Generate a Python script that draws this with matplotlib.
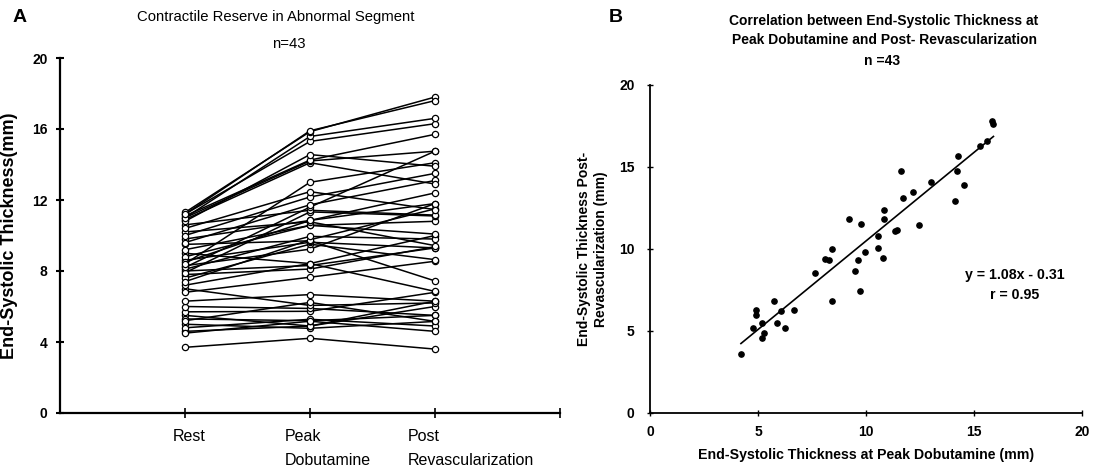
import matplotlib
matplotlib.use("Agg")
import matplotlib.pyplot as plt
import matplotlib.transforms as mtransforms
import numpy as np

plt.rcParams['font.family'] = ['Liberation Sans', 'DejaVu Sans']

# Data: end-systolic thickness (mm) for 43 segments
rest = [3.7, 5.0, 4.6, 5.5, 5.3, 4.8, 4.5, 5.7, 6.0, 7.0, 5.2, 6.3, 6.8, 7.8,
        8.0, 7.2, 9.0, 8.3, 7.6, 8.6, 9.5, 7.4, 8.1, 9.2, 8.8, 10.2, 8.5, 9.8,
        7.9, 10.6, 8.2, 9.6, 10.0, 10.4, 8.4, 10.9, 11.0, 11.1, 10.8, 11.2,
        11.0, 11.3, 11.2]
peak = [4.21, 4.77, 4.9, 4.9, 5.2, 5.28, 5.17, 5.73, 5.89, 6.06, 6.23, 6.67,
        7.65, 8.11, 8.31, 8.42, 8.42, 9.23, 9.51, 9.62, 9.7, 9.76, 9.95, 10.57,
        10.57, 10.77, 10.85, 10.85, 11.33, 11.42, 11.6, 11.73, 12.17, 12.47,
        13.0, 14.1, 14.2, 14.25, 14.56, 15.3, 15.58, 15.85, 15.9]
post = [3.6, 5.16, 6.3, 6.0, 5.5, 4.9, 4.6, 6.8, 5.5, 6.2, 5.16, 6.3, 8.55,
        9.37, 9.3, 10.0, 6.85, 11.8, 8.64, 9.3, 7.44, 11.5, 9.8, 10.8, 10.08,
        9.43, 12.4, 11.8, 11.1, 11.15, 14.75, 13.1, 13.5, 11.46, 14.1, 12.9,
        14.75, 15.7, 13.9, 16.3, 16.6, 17.8, 17.6]

stages = ['Rest', 'Peak\nDobutamine', 'Post\nRevascularization']
slope, intercept, r_value = 1.08, -0.31, 0.95

fig = plt.figure(figsize=(10.94, 4.72), dpi=100)

# ---- Panel A ----
axA = fig.add_axes([60 / 1094, 59 / 472, 500 / 1094, 355 / 472])
xs = [1, 2, 3]
for r, p, q in zip(rest, peak, post):
    axA.plot(xs, [r, p, q], color='black', lw=1.1, marker='o', ms=4.5,
             mfc='white', mec='black', mew=0.9)
axA.set_xlim(0, 4)
axA.set_ylim(0, 20)
axA.set_yticks(range(0, 21, 4))
axA.set_xticks([1, 2, 3, 4])
axA.set_xticklabels([])
for s in ['top', 'right']:
    axA.spines[s].set_visible(False)
for s in ['left', 'bottom']:
    axA.spines[s].set_linewidth(1.6)
axA.tick_params(axis='y', direction='inout', length=6, width=1.5,
                labelsize=10, pad=6)
axA.tick_params(axis='x', direction='inout', length=7, width=1.2)
for lab in axA.get_yticklabels():
    lab.set_fontweight('bold')
trans = mtransforms.blended_transform_factory(axA.transData, axA.transAxes)
offsets = [-0.1, -0.2, -0.22]
for x, lab, off in zip(xs, stages, offsets):
    axA.text(x + off, -0.045, lab, transform=trans, ha='left', va='top',
             fontsize=11.5, linespacing=1.75)
axA.set_ylabel('End-Systolic Thickness(mm)', fontsize=13,
               fontweight='bold', labelpad=10)

fig.text(276 / 1094, 1 - 17 / 472, 'Contractile Reserve in Abnormal Segment',
         ha='center', va='center', fontsize=10.7)
fig.text(289 / 1094, 1 - 44 / 472, 'n=43', ha='center', va='center',
         fontsize=10.7)
fig.text(20 / 1094, 1 - 17 / 472, 'A', ha='center', va='center',
         fontsize=14, fontweight='bold')

# ---- Panel B ----
axB = fig.add_axes([650 / 1094, 59 / 472, 432 / 1094, 328 / 472])
axB.plot(peak, post, 'o', color='black', ms=3.8)
fit_x = np.array([min(peak), max(peak)])
axB.plot(fit_x, slope * fit_x + intercept, color='black', lw=1.2)
axB.set_xlim(0, 20)
axB.set_ylim(0, 20)
axB.set_xticks(range(0, 21, 5))
axB.set_yticks(range(0, 21, 5))
for s in ['top', 'right']:
    axB.spines[s].set_visible(False)
for s in ['left', 'bottom']:
    axB.spines[s].set_linewidth(1.3)
axB.tick_params(axis='both', direction='inout', length=4, width=1,
                labelsize=10)
axB.tick_params(axis='y', pad=9)
axB.tick_params(axis='x', pad=7)
for lab in axB.get_xticklabels() + axB.get_yticklabels():
    lab.set_fontweight('bold')
axB.set_xlabel('End-Systolic Thickness at Peak Dobutamine (mm)',
               fontsize=10.2, fontweight='bold', labelpad=6)
axB.set_ylabel('End-Systolic Thickness Post-\nRevascularization (mm)',
               fontsize=10, fontweight='bold', labelpad=8, linespacing=1.3)
axB.text(16.9, 8.4, f'y = {slope:.2f}x - {abs(intercept):.2f}',
         ha='center', va='center', fontsize=10.2, fontweight='bold')
axB.text(16.9, 7.2, f'r = {r_value:.2f}', ha='center', va='center',
         fontsize=10.2, fontweight='bold')

fig.text(884 / 1094, 1 - 21 / 472,
         'Correlation between End-Systolic Thickness at',
         ha='center', va='center', fontsize=10, fontweight='bold')
fig.text(884 / 1094, 1 - 40 / 472,
         'Peak Dobutamine and Post- Revascularization',
         ha='center', va='center', fontsize=10, fontweight='bold')
fig.text(882 / 1094, 1 - 61 / 472, 'n =43', ha='center', va='center',
         fontsize=10, fontweight='bold')
fig.text(616 / 1094, 1 - 17 / 472, 'B', ha='center', va='center',
         fontsize=14, fontweight='bold')

fig.savefig('out.png', dpi=100)
